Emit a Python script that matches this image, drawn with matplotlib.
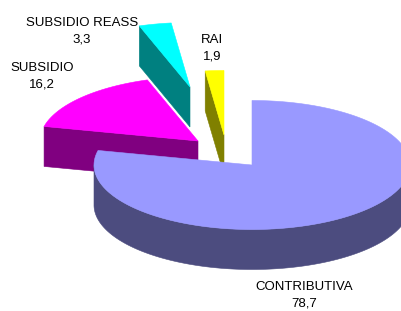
import numpy as np
import matplotlib
matplotlib.use('Agg')
import matplotlib.pyplot as plt
from matplotlib.patches import Polygon

# data
labels = ['CONTRIBUTIVA', 'SUBSIDIO', 'SUBSIDIO REASS', 'RAI']
values = [78.7, 16.2, 3.3, 1.9]

# styles / layout (pixel space)
top_colors = ['#9999FF', '#FF00FF', '#00FFFF', '#FFFF00']
side_colors = ['#4C4C7F', '#800080', '#008080', '#808000']
explode = [(0, 0), (-54, -24), (-62, -78), (-28, -30)]
label_pos = [(304, 295), (42, 76), (82, 31), (212, 48)]
cx, cy = 252, 165
rx, ry = 158, 64.5
depth = 40

plt.rcParams['font.family'] = ['Liberation Sans', 'DejaVu Sans']

fig = plt.figure(figsize=(4.01, 3.11), dpi=100)
ax = fig.add_axes([0, 0, 1, 1])
ax.set_xlim(0, 401)
ax.set_ylim(311, 0)
ax.axis('off')

total = sum(values)
starts, ends = [], []
a = 90.0
for v in values:
    t2 = a
    t1 = a - 360.0 * v / total
    starts.append(t1)
    ends.append(t2)
    a = t1


def rim(px, py, th):
    r = np.radians(th)
    return px + rx * np.cos(r), py - ry * np.sin(r)


def poly(pts, color, z):
    ax.add_patch(Polygon(pts, closed=True, facecolor=color, edgecolor=color,
                         lw=0.4, zorder=z))


# back slices first
order = [2, 3, 1, 0]
for z, i in enumerate(order):
    t1, t2 = starts[i], ends[i]
    px, py = cx + explode[i][0], cy + explode[i][1]
    base = z * 10
    # cut face at upper edge
    if np.cos(np.radians(t2)) < -1e-6:
        xr, yr = rim(px, py, t2)
        poly([(px, py), (xr, yr), (xr, yr + depth), (px, py + depth)], side_colors[i], base + 1)
    # cut face at lower edge
    if np.cos(np.radians(t1)) > 1e-6:
        xr, yr = rim(px, py, t1)
        poly([(px, py), (xr, yr), (xr, yr + depth), (px, py + depth)], side_colors[i], base + 1)
    # outer wall (front part)
    th = np.linspace(t1, t2, 800)
    front = np.sin(np.radians(th)) <= 0
    if front.any():
        tf = th[front]
        xs, ys = rim(px, py, tf)
        pts = list(zip(xs, ys)) + list(zip(xs[::-1], ys[::-1] + depth))
        poly(pts, side_colors[i], base + 2)
    # top face
    xs, ys = rim(px, py, th)
    pts = [(px, py)] + list(zip(xs, ys))
    poly(pts, top_colors[i], base + 3)

for i, lab in enumerate(labels):
    txt = lab + '\n' + f'{values[i]:.1f}'.replace('.', ',')
    ax.text(label_pos[i][0], label_pos[i][1], txt, ha='center', va='center',
            fontsize=9.5, linespacing=1.55, color='black', zorder=100)

fig.savefig('out.png', dpi=100)
